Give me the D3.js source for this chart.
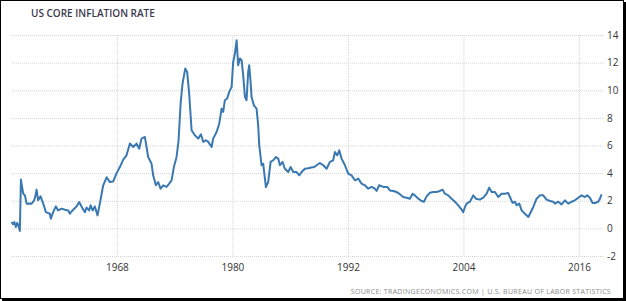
<!DOCTYPE html>
<html>
<head>
<meta charset="utf-8">
<script src="https://cdn.jsdelivr.net/npm/d3@7"></script>
<style>
  html, body { margin: 0; padding: 0; background: #fff; }
  svg { display: block; }
</style>
</head>
<body>
<svg id="chart" width="626" height="301"></svg>
<script>
// ---- data ----
const title = "US CORE INFLATION RATE";
const sourceText = "SOURCE: TRADINGECONOMICS.COM | U.S. BUREAU OF LABOR STATISTICS";
const yTicks = [-2, 0, 2, 4, 6, 8, 10, 12, 14];
const xTicks = [1968, 1980, 1992, 2004, 2016];

const years = [
  1957.06,1957.2,1957.35,1957.5,1957.65,1957.8,1957.92,1958.03,1958.15,1958.27,1958.45,1958.62,1958.9,1959.14,1959.41,1959.55,1959.66,1959.82,
  1960.07,1960.35,1960.62,1961.04,1961.14,1961.38,1961.66,1961.9,1962.25,1962.6,1962.94,1963.12,1963.46,1963.81,1964.08,1964.44,1964.68,1964.85,
  1965.12,1965.27,1965.48,1965.71,1965.99,1966.23,1966.58,1966.93,1967.27,1967.62,1967.97,1968.31,1968.66,1969.0,1969.35,1969.7,1970.04,1970.32,
  1970.56,1970.91,1971.08,1971.25,1971.6,1971.77,1972.05,1972.29,1972.54,1972.81,1973.16,1973.43,1973.68,1973.92,1974.2,1974.41,1974.62,1974.82,
  1975.1,1975.3,1975.51,1975.76,1976.1,1976.45,1976.73,1976.97,1977.25,1977.49,1977.84,1978.0,1978.36,1978.63,1978.88,1979.04,1979.22,1979.46,
  1979.67,1979.92,1980.08,1980.26,1980.44,1980.6,1980.78,1980.96,1981.12,1981.3,1981.47,1981.64,1981.75,1981.89,1981.99,1982.23,1982.51,1982.68,
  1982.79,1983.03,1983.2,1983.38,1983.48,1983.72,1983.97,1984.24,1984.52,1984.76,1984.94,1985.21,1985.45,1985.8,1986.05,1986.32,1986.67,1986.94,
  1987.19,1987.53,1987.88,1988.2,1988.5,1988.75,1989.09,1989.44,1989.79,1990.13,1990.47,1990.65,1990.89,1991.1,1991.34,1991.69,1992.03,1992.38,
  1992.73,1993.07,1993.42,1993.77,1994.11,1994.46,1994.81,1994.98,1995.25,1995.67,1996.09,1996.36,1996.71,1997.06,1997.33,1997.75,1998.1,1998.44,
  1998.72,1998.96,1999.31,1999.65,1999.9,2000.17,2000.52,2000.86,2001.21,2001.56,2001.84,2002.08,2002.42,2002.77,2003.12,2003.46,2003.74,2003.98,
  2004.16,2004.33,2004.68,2005.02,2005.3,2005.71,2006.06,2006.41,2006.68,2006.93,2007.27,2007.62,2007.96,2008.31,2008.66,2008.83,2009.11,2009.35,
  2009.53,2009.8,2010.05,2010.39,2010.74,2010.91,2011.26,2011.6,2011.95,2012.29,2012.64,2012.99,2013.33,2013.51,2013.85,2014.2,2014.55,2014.89,
  2015.24,2015.58,2015.93,2016.28,2016.62,2016.86,2017.14,2017.42,2017.66,2018.0,2018.18,2018.35
];
const rates = [
  0.46,0.3,0.45,0.1,0.4,0.15,-0.19,3.53,3.0,2.51,2.39,1.79,1.8,1.79,2.03,2.4,2.8,2.03,
  2.32,1.79,1.18,1.06,0.7,1.18,1.59,1.3,1.43,1.35,1.3,1.06,1.35,1.59,1.91,1.43,1.18,1.5,
  1.3,1.67,1.3,1.59,0.94,1.79,3.12,3.7,3.35,3.4,4.0,4.44,4.98,5.29,6.14,5.89,6.14,5.77,
  6.5,6.62,5.89,5.17,4.69,3.84,3.12,3.36,2.87,3.12,3.0,3.24,3.48,4.44,5.17,6.38,9.03,10.48,
  11.57,11.33,9.76,7.1,6.74,6.5,6.81,6.26,6.38,6.26,5.89,6.5,6.98,7.58,8.67,8.43,9.28,9.4,
  9.88,10.24,12.05,12.66,13.62,11.81,12.3,12.17,11.09,9.52,9.28,11.33,11.81,10.6,9.52,8.91,8.67,7.46,
  6.01,4.57,4.69,3.6,2.99,3.36,4.81,4.93,5.17,5.05,4.57,4.81,4.32,4.08,4.44,4.08,4.08,3.84,
  4.08,4.32,4.35,4.4,4.44,4.57,4.73,4.57,4.32,4.81,4.93,5.53,5.29,5.65,5.05,4.57,3.96,3.84,
  3.48,3.6,3.24,3.12,2.87,3.0,2.87,2.71,3.12,3.0,3.0,2.75,2.71,2.63,2.51,2.27,2.22,2.15,
  2.51,2.39,2.15,1.98,1.93,2.32,2.58,2.63,2.63,2.71,2.8,2.51,2.39,2.15,1.93,1.67,1.43,1.18,
  1.55,1.79,1.93,2.39,2.15,2.08,2.22,2.51,2.95,2.63,2.63,2.27,2.51,2.51,2.56,2.27,1.84,1.93,
  1.67,1.79,1.3,1.06,0.82,1.06,1.55,2.15,2.39,2.39,2.08,1.98,1.93,1.79,1.93,1.74,2.03,1.79,
  1.93,2.03,2.22,2.39,2.27,2.39,2.22,1.84,1.84,1.93,2.15,2.46
];

// ---- drawing ----
const svg = d3.select("#chart");
const W = 626, H = 301;
const FONT = "'Open Sans', 'Liberation Sans', sans-serif";

const x = d3.scaleLinear().domain([1957, 2018.5]).range([11, 603]);
const y = d3.scaleLinear().domain([-2, 14]).range([256, 35]);

// frame
svg.append("rect").attr("x", 0.5).attr("y", 0.5).attr("width", W - 3).attr("height", H - 3)
  .attr("fill", "#fff").attr("stroke", "#000").attr("stroke-width", 1);
svg.append("rect").attr("x", W - 3).attr("y", 2).attr("width", 3).attr("height", H - 2).attr("fill", "#000");
svg.append("rect").attr("x", 2).attr("y", H - 3).attr("width", W - 2).attr("height", 3).attr("fill", "#000");

// title
svg.append("text").attr("x", 31).attr("y", 17)
  .attr("font-family", FONT)
  .attr("font-size", 10).attr("font-weight", 600).attr("fill", "#3c3a4e")
  .text(title);

const fmt = d => String(d);

// horizontal gridlines + right axis labels
const yAxis = d3.axisRight(y).tickValues(yTicks).tickSize(-(603 - 11)).tickPadding(4)
  .tickFormat(fmt);
const gy = svg.append("g").attr("transform", "translate(603,0)").call(yAxis);
gy.select(".domain").remove();
gy.selectAll(".tick line").attr("stroke", "#d4d4d4").attr("stroke-dasharray", "1,1");
gy.selectAll(".tick text").attr("font-family", FONT)
  .attr("font-size", 10).attr("fill", "#333");

// vertical gridlines + bottom axis labels
const xAxis = d3.axisBottom(x).tickValues(xTicks).tickSize(-(256 - 35)).tickPadding(8)
  .tickFormat(fmt);
const gx = svg.append("g").attr("transform", "translate(0,256)").call(xAxis);
gx.select(".domain").remove();
gx.selectAll(".tick line").attr("stroke", "#d4d4d4").attr("stroke-dasharray", "1,1");
gx.selectAll(".tick text").attr("font-family", FONT)
  .attr("font-size", 10).attr("fill", "#333");

// line
const data = years.map((yr, i) => ({ yr, v: rates[i] }));
const line = d3.line().x(d => x(d.yr)).y(d => y(d.v));
svg.append("path").datum(data).attr("d", line)
  .attr("fill", "none").attr("stroke", "#3a78b2").attr("stroke-width", 2)
  .attr("stroke-linejoin", "round");

// source
svg.append("text").attr("x", 611).attr("y", 294).attr("text-anchor", "end")
  .attr("font-family", FONT)
  .attr("font-size", 7).attr("fill", "#8a8a8a").attr("letter-spacing", 0.3)
  .text(sourceText);
</script>
</body>
</html>
